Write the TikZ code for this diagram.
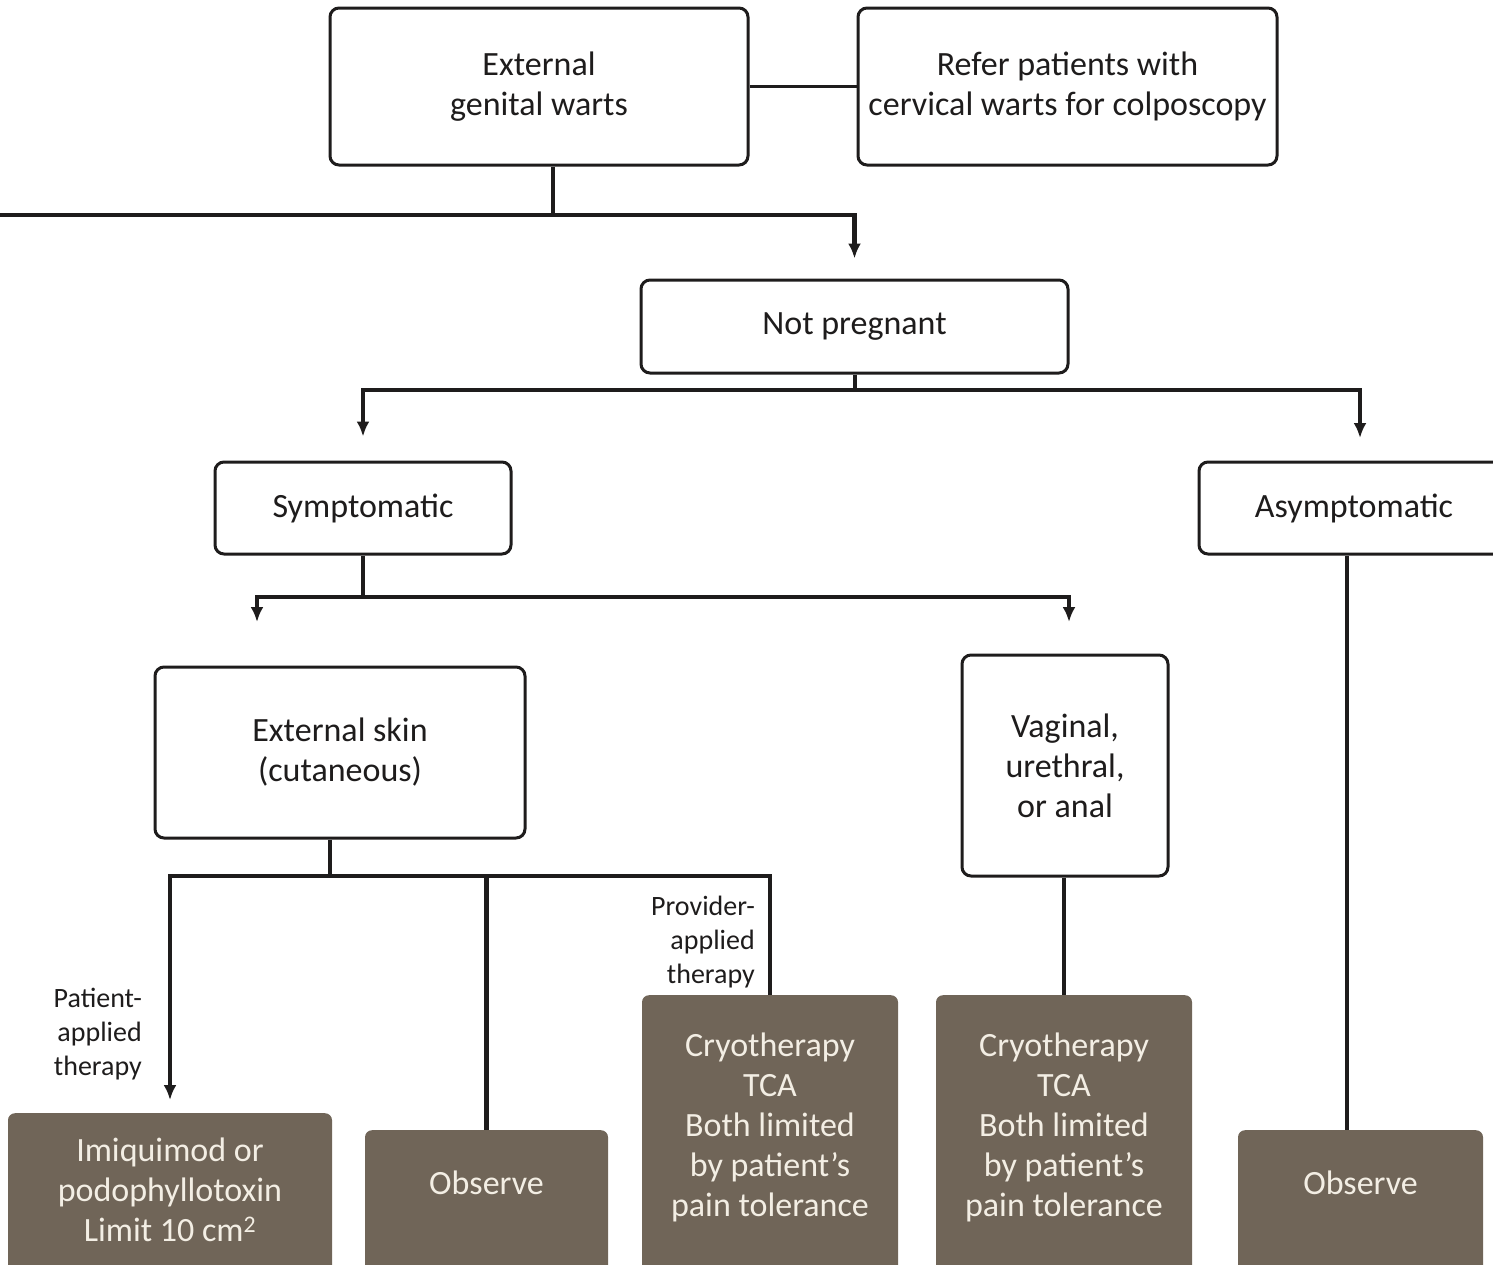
\documentclass[tikz,border=0pt]{standalone}
\usepackage{fontspec}
\setmainfont{Carlito}
\usetikzlibrary{positioning,arrows.meta}

\definecolor{boxbrown}{RGB}{112,101,88}
\definecolor{boxcream}{RGB}{243,238,228}
\definecolor{inkgrey}{RGB}{30,28,28}

\tikzset{
  whitebox/.style={rectangle,draw=inkgrey,line width=3pt,rounded corners=9pt,fill=white,
    align=center,text=inkgrey,font=\fontsize{34}{40}\selectfont},
  brownbox/.style={rectangle,fill=boxbrown,rounded corners=7pt,anchor=north,minimum height=300pt},
  browntext/.style={align=center,text=boxcream,inner sep=0pt,font=\fontsize{34}{40}\selectfont},
  sidetext/.style={align=right,text=inkgrey,inner sep=0pt,anchor=east,font=\fontsize{28}{34}\selectfont},
  link/.style={draw=inkgrey,line width=4.5pt},
  flowarrow/.style={link,-{Latex[length=15pt,width=13pt]}}
}

\begin{document}
\begin{tikzpicture}[x=1pt,y=-1pt]
\useasboundingbox (0,0) rectangle (1493,1264);
\clip (0,0) rectangle (1493,1264);

% Top level
\node[whitebox,minimum width=418pt,minimum height=157pt] (egw) at (539,86.5) {External\\genital warts};
\node[whitebox,minimum width=419pt,minimum height=157pt] (refer) at (1067.5,86.5) {Refer patients with\\cervical warts for colposcopy};

% Second level
\node[whitebox,minimum width=427pt,minimum height=93pt] (notpreg) at (854.5,326.5) {Not pregnant};

% Third level
\node[whitebox,minimum width=296pt,minimum height=92pt] (symp) at (363,508) {Symptomatic};
\node[whitebox,minimum width=310pt,minimum height=92pt] (asymp) at (1354,508) {Asymptomatic};

% Fourth level
\node[whitebox,minimum width=370pt,minimum height=171pt] (extskin) at (340,752.5) {External skin\\(cutaneous)};
\node[whitebox,minimum width=206pt,minimum height=221pt] (vag) at (1065,765.5) {Vaginal,\\urethral,\\or anal};

% Treatments
\node[brownbox,minimum width=324pt] (imiq) at (170,1113) {};
\node[brownbox,minimum width=243pt] (obs1) at (486.5,1130) {};
\node[brownbox,minimum width=256pt] (cryo1) at (770,995) {};
\node[brownbox,minimum width=256pt] (cryo2) at (1064,995) {};
\node[brownbox,minimum width=245pt] (obs2) at (1360.5,1130) {};

\node[browntext,below=25pt of imiq.north] (imiqtxt) {Imiquimod or\\podophyllotoxin\\Limit 10 cm\textsuperscript{2}};
\node[browntext,below=41pt of obs1.north] (obs1txt) {Observe};
\node[browntext,below=38pt of cryo1.north] (cryo1txt) {Cryotherapy\\TCA\\Both limited\\by patient's\\pain tolerance};
\node[browntext,below=38pt of cryo2.north] (cryo2txt) {Cryotherapy\\TCA\\Both limited\\by patient's\\pain tolerance};
\node[browntext,below=41pt of obs2.north] (obs2txt) {Observe};

% Side labels
\node[sidetext] (patlbl) at (142,1034) {Patient-\\applied\\therapy};
\node[sidetext] (provlbl) at (755,942) {Provider-\\applied\\therapy};

% Junctions and arrow ends
\coordinate (j1) at (553,215);
\coordinate (lft) at (-20,215);
\coordinate (j2) at (855,390);
\coordinate (j3) at (363,597);
\coordinate (asymptip) at (1360,438);
\coordinate (skintip) at (257,622);
\coordinate (vagtip) at (1069,622);
\coordinate (j4) at (330,876);
\coordinate (patend) at (170,1100);

% Connections
\draw[draw=inkgrey,line width=3pt] (egw.east) -- (refer.west);
\draw[link] (egw.south -| j1) -- (j1);
\draw[flowarrow,shorten >=20pt] (lft) -| (notpreg.north);
\draw[link] (notpreg.south -| j2) -- (j2);
\draw[flowarrow,shorten >=24pt] (j2) -| (symp.north);
\draw[flowarrow] (j2) -| (asymptip);
\draw[link] (symp.south) -- (j3);
\draw[flowarrow] (j3) -| (skintip);
\draw[flowarrow] (j3) -| (vagtip);
\draw[link] (extskin.south -| j4) -- (j4);
\draw[flowarrow] (j4) -| (patend);
\draw[link] (j4) -| (obs1.north);
\draw[link] (j4) -| (cryo1.north);
\draw[link] (vag.south -| cryo2.north) -- (cryo2.north);
\draw[link] (asymp.south -| 1347,0) -- (obs2.north -| 1347,0);
\end{tikzpicture}
\end{document}
